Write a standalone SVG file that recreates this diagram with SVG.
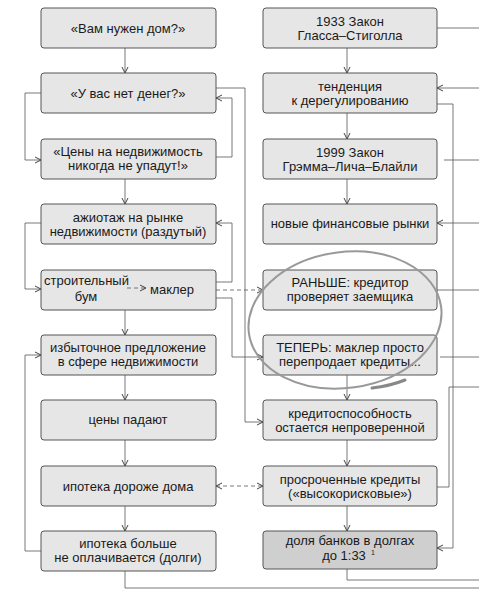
<svg xmlns="http://www.w3.org/2000/svg" width="479" height="599" viewBox="0 0 479 599">
<style>
  .box{fill:#e6e6e6;stroke:#555;stroke-width:1}
  .dark{fill:#cfcfcf}
  text{font-family:"Liberation Sans",Arial,sans-serif;font-size:13px;fill:#1a1a1a;text-anchor:middle}
  .c{fill:none;stroke:#555;stroke-width:0.8}
  .d{stroke-dasharray:4 3}
</style>
<defs>
  <marker id="a" viewBox="0 0 8 8" refX="7.5" refY="4" markerWidth="8" markerHeight="8" orient="auto-start-reverse" markerUnits="userSpaceOnUse">
    <path d="M1.5,1 L7.5,4 L1.5,7" fill="none" stroke="#444" stroke-width="1"/>
  </marker>
</defs>
<rect width="479" height="599" fill="#fff"/>

<g id="connectors">
  <path class="c" d="M125,48 V73" marker-end="url(#a)"/>
  <path class="c" d="M125,179 V204" marker-end="url(#a)"/>
  <path class="c" d="M125,310 V335" marker-end="url(#a)"/>
  <path class="c" d="M125,375 V400" marker-end="url(#a)"/>
  <path class="c" d="M125,440 V466" marker-end="url(#a)"/>
  <path class="c" d="M125,506 V531" marker-end="url(#a)"/>
  <path class="c" d="M347,48 V73" marker-end="url(#a)"/>
  <path class="c" d="M347,113 V139" marker-end="url(#a)"/>
  <path class="c" d="M347,179 V204" marker-end="url(#a)"/>
  <path class="c" d="M347,375 V400" marker-end="url(#a)"/>
  <path class="c" d="M347,440 V466" marker-end="url(#a)"/>
  <path class="c" d="M347,506 V531" marker-end="url(#a)"/>
  <path class="c" d="M41,93 H25 V160 H41" marker-end="url(#a)"/>
  <path class="c" d="M216,157 H232 V98 H216" marker-end="url(#a)"/>
  <path class="c" d="M216,88 H245 V422 H263" marker-end="url(#a)"/>
  <path class="c" d="M41,223 H25 V289 H41" marker-end="url(#a)"/>
  <path class="c" d="M216,282 H232 V223 H216" marker-end="url(#a)"/>
  <path class="c d" d="M216,290 H263" marker-end="url(#a)"/>
  <path class="c" d="M216,298 H232 V357 H263" marker-end="url(#a)"/>
  <path class="c" d="M41,551 H25 V355 H41" marker-end="url(#a)"/>
  <path class="c d" d="M216,486 H263" marker-start="url(#a)" marker-end="url(#a)"/>
  <path class="c" d="M125,571 V588 H479"/>
  <path class="c" d="M347,569 V580 H479"/>
  <path class="c" d="M437,28 H479"/>
  <path class="c" d="M479,88 H437" marker-end="url(#a)"/>
  <path class="c" d="M437,104 H453 V548 H437" marker-end="url(#a)"/>
  <path class="c" d="M444,160 H479"/>
  <path class="c" d="M479,223 H437" marker-end="url(#a)"/>
  <path class="c" d="M437,290 H479"/>
  <path class="c" d="M440,357 H479"/>
  <path class="c" d="M437,487 H449 V387 H479"/>
</g>

<g id="L1"><rect class="box" x="41" y="8" width="175" height="40" rx="3"/><text x="128" y="33">«Вам нужен дом?»</text></g>
<g id="L2"><rect class="box" x="41" y="73" width="175" height="40" rx="3"/><text x="128" y="98">«У вас нет денег?»</text></g>
<g id="L3"><rect class="box" x="41" y="139" width="175" height="40" rx="3"/><text x="128" y="156">«Цены на недвижимость</text><text x="128" y="170">никогда не упадут!»</text></g>
<g id="L4"><rect class="box" x="41" y="204" width="175" height="40" rx="3"/><text x="128" y="222">ажиотаж на рынке</text><text x="128" y="236">недвижимости (раздутый)</text></g>
<g id="L5"><rect class="box" x="41" y="270" width="175" height="40" rx="3"/>
  <text x="44" y="285" style="text-anchor:start">строительный</text>
  <text x="86" y="301">бум</text>
  <path class="c d" d="M127,288 H146" marker-end="url(#a)"/>
  <text x="150" y="294" style="text-anchor:start">маклер</text>
</g>
<g id="L6"><rect class="box" x="41" y="335" width="175" height="40" rx="3"/><text x="128" y="352">избыточное предложение</text><text x="128" y="366">в сфере недвижимости</text></g>
<g id="L7"><rect class="box" x="41" y="400" width="175" height="40" rx="3"/><text x="128" y="424">цены падают</text></g>
<g id="L8"><rect class="box" x="41" y="466" width="175" height="40" rx="3"/><text x="128" y="491">ипотека дороже дома</text></g>
<g id="L9"><rect class="box" x="41" y="531" width="175" height="40" rx="3"/><text x="128" y="548">ипотека больше</text><text x="128" y="562">не оплачивается (долги)</text></g>

<g id="R1"><rect class="box" x="263" y="8" width="174" height="40" rx="3"/><text x="350" y="26">1933 Закон</text><text x="350" y="40">Гласса–Стиголла</text></g>
<g id="R2"><rect class="box" x="263" y="73" width="174" height="40" rx="3"/><text x="350" y="91">тенденция</text><text x="350" y="105">к дерегулированию</text></g>
<g id="R3"><rect class="box" x="263" y="139" width="174" height="40" rx="3"/><text x="350" y="157">1999 Закон</text><text x="350" y="171">Грэмма–Лича–Блайли</text></g>
<g id="R4"><rect class="box" x="263" y="204" width="174" height="40" rx="3"/><text x="350" y="228">новые финансовые рынки</text></g>
<g id="R5"><rect class="box" x="263" y="270" width="174" height="40" rx="3"/><text x="350" y="287">РАНЬШЕ: кредитор</text><text x="350" y="301">проверяет заемщика</text></g>
<g id="R6"><rect class="box" x="263" y="335" width="174" height="40" rx="3"/><text x="350" y="352">ТЕПЕРЬ: маклер просто</text><text x="350" y="366">перепродает кредиты...</text></g>
<g id="R7"><rect class="box" x="263" y="400" width="174" height="40" rx="3"/><text x="350" y="418">кредитоспособность</text><text x="350" y="432">остается непроверенной</text></g>
<g id="R8"><rect class="box" x="263" y="466" width="174" height="40" rx="3"/><text x="350" y="484">просроченные кредиты</text><text x="350" y="498">(«высокорисковые»)</text></g>
<g id="R9"><rect class="box dark" x="263" y="531" width="174" height="38" rx="3"/><text x="350" y="545">доля банков в долгах</text><text x="344" y="560">до 1:33</text><text x="371" y="555" style="font-size:7px;text-anchor:start">1</text></g>

<g id="circle">
  <ellipse cx="345" cy="320" rx="97" ry="68" transform="rotate(-8 345 320)" fill="none" stroke="#999" stroke-width="2"/>
  <path d="M372,388 Q390,386 405,380" fill="none" stroke="#888" stroke-width="3" stroke-linecap="round"/>
</g>
</svg>
